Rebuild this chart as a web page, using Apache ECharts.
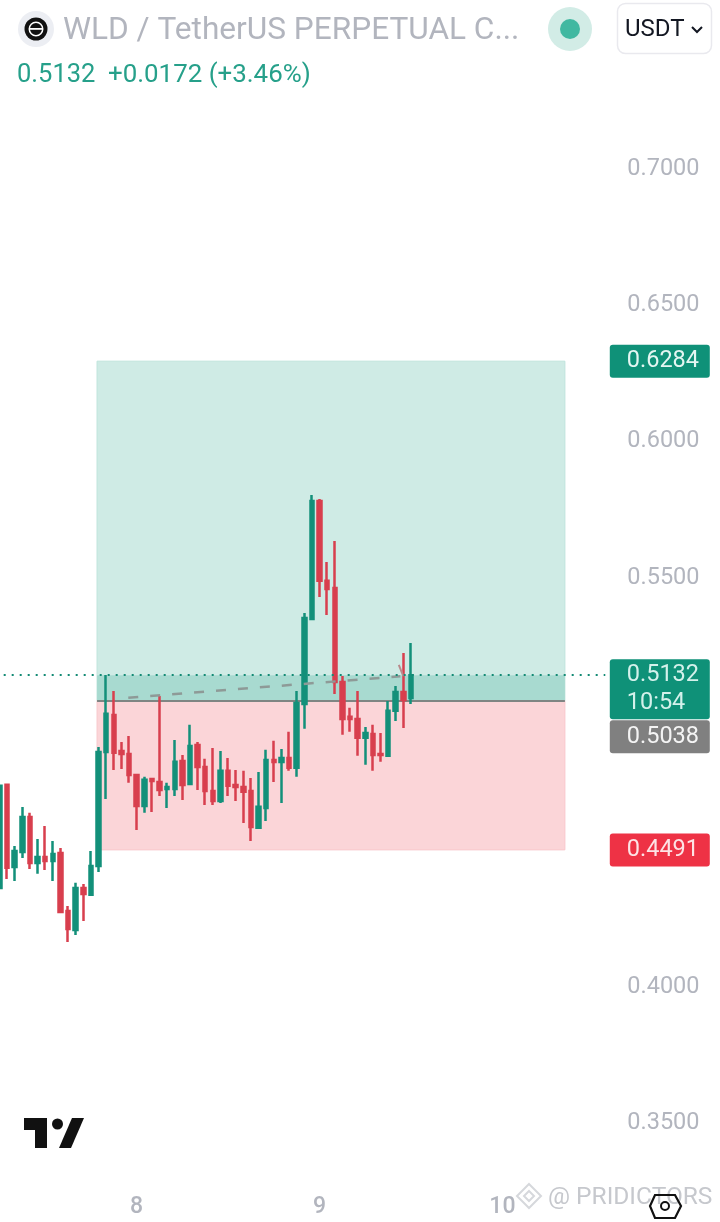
<!DOCTYPE html>
<html><head><meta charset="utf-8">
<style>html,body{margin:0;padding:0;background:#fff}#c{width:720px;height:1222px}</style>
<script src="https://cdn.jsdelivr.net/npm/echarts@6/dist/echarts.min.js"></script></head>
<body><div id="c"></div>
<script>
const opens =[.4351,.4730,.4428,.4483,.4612,.4443,.4465,.4450,.4480,.4267,.4197,.4351,.4326,.4432,.4850,.4986,.4854,.4843,.4766,.4652,.4751,.4740,.4714,.4714,.4817,.4733,.4876,.4795,.4707,.4670,.4781,.4729,.4722,.4707,.4572,.4645,.4821,.4813,.4828,.4792,.5026,.5338,.5771,.5478,.5452,.5107,.4979,.4971,.4902,.4916,.4843,.4836,.5001,.5070,.5048];
const closes=[.4726,.4425,.4487,.4612,.4443,.4465,.4450,.4476,.4263,.4201,.4351,.4329,.4432,.4850,.4990,.4847,.4843,.4766,.4652,.4748,.4744,.4711,.4722,.4814,.4729,.4872,.4795,.4707,.4670,.4781,.4726,.4722,.4704,.4575,.4649,.4821,.4813,.4828,.4792,.5030,.5342,.5771,.5478,.5448,.5107,.4971,.4971,.4902,.4920,.4839,.4839,.5001,.5070,.5041,.5132];
const lows  =[.4347,.4384,.4377,.4461,.4421,.4403,.4417,.4377,.4260,.4153,.4179,.4230,.4326,.4410,.4678,.4784,.4788,.4737,.4564,.4627,.4630,.4689,.4645,.4689,.4674,.4733,.4711,.4656,.4656,.4663,.4689,.4670,.4590,.4524,.4572,.4597,.4740,.4663,.4781,.4759,.4935,.5338,.5419,.5353,.5063,.4913,.4924,.4836,.4803,.4781,.4814,.4836,.4964,.4938,.5026];
const highs =[.4730,.4730,.4505,.4648,.4627,.4531,.4579,.4524,.4498,.4285,.4370,.4366,.4487,.4868,.5133,.5074,.4887,.4909,.4766,.4759,.4755,.5056,.4737,.4894,.4839,.4950,.4887,.4825,.4865,.4854,.4828,.4784,.4781,.4755,.4777,.4858,.4891,.4861,.4924,.5074,.5360,.5793,.5778,.5547,.5624,.5129,.5012,.5074,.4942,.4950,.4920,.5037,.5092,.5213,.5250];
const bandCount = 80;
const dayLabels = {18:'8',42:'9',66:'10'};
const categories = Array.from({length:bandCount},(_,i)=>dayLabels[i]||'');
const priceTicks = {min:0.35,max:0.70,step:0.05};
const hiddenTicks = ['0.5000','0.4500'];
const boxSpan = [12.8,74.2];
const targetPrice=0.6284, entryPrice=0.5038, stopPrice=0.4491, lastPrice=0.5132, countdown='10:54';
const lineStart=[16.9,0.5049], lineEnd=[52.6,0.5128];
const arrowTop=[52.4,0.5170], arrowTip=[53.0,0.5128];
const UP='#13907a', DOWN='#d83f4e', GREY='#b2b5be';
const badge=(v,text,bg,fg,dy,h)=>({yAxis:v,lineStyle:{width:0,color:'rgba(0,0,0,0)'},
  label:{show:true,position:'end',distance:4.5,offset:[0,dy],formatter:text,backgroundColor:bg,color:fg,padding:[6,0,0,17],
    fontFamily:'Roboto',fontSize:23.5,lineHeight:28,width:83,height:h-6,align:'left',verticalAlign:'middle',borderRadius:3}});
const txt=(text,x,y,size,fill,extra)=>({type:'text',z:50,style:Object.assign({text,x,y,font:size+'px Roboto',fill,verticalAlign:'middle',textVerticalAlign:'middle'},extra||{})});
const chart=echarts.init(document.getElementById('c'),null,{renderer:'canvas'});
chart.setOption({
 animation:false,backgroundColor:'#fff',
 grid:{left:-4.31,top:166,width:609.6,height:954,containLabel:false,outerBoundsMode:'none'},
 xAxis:[{type:'category',data:categories,boundaryGap:true,axisLine:{show:false},axisTick:{show:false},splitLine:{show:false},
   axisLabel:{interval:0,margin:76,color:GREY,fontFamily:'Roboto',fontSize:23,fontWeight:500}},
  {type:'value',min:-0.5,max:bandCount-0.5,show:false}],
 yAxis:{type:'value',position:'right',min:priceTicks.min,max:priceTicks.max,interval:priceTicks.step,scale:true,
   axisLine:{show:false},axisTick:{show:false},splitLine:{show:false},
   axisLabel:{margin:22,color:GREY,fontFamily:'Roboto',fontSize:23.5,verticalAlign:'top',lineHeight:6,formatter:v=>hiddenTicks.includes(v.toFixed(4))?'':v.toFixed(4)}},
 series:[
  {type:'line',xAxisIndex:1,data:[],silent:true,z:1,
   markArea:{silent:true,z:1,data:[
     [{xAxis:boxSpan[0],yAxis:targetPrice,itemStyle:{color:'#cfebe5',borderColor:'#bfe4dc',borderWidth:1}},{xAxis:boxSpan[1],yAxis:entryPrice}],
     [{xAxis:boxSpan[0],yAxis:entryPrice,itemStyle:{color:'#fbd5d8',borderColor:'#f8c8cc',borderWidth:1}},{xAxis:boxSpan[1],yAxis:stopPrice}],
     [{xAxis:boxSpan[0],yAxis:lastPrice,itemStyle:{color:'#a8dad0',borderWidth:0}},{xAxis:boxSpan[1],yAxis:entryPrice}]
   ]},
   markLine:{silent:true,symbol:'none',z:2,precision:4,animation:false,data:[
     [{coord:[boxSpan[0],entryPrice],lineStyle:{color:'#7f8583',width:2,type:'solid'},label:{show:false}},{coord:[boxSpan[1],entryPrice]}]
   ]}},
  {type:'candlestick',xAxisIndex:0,z:3,barWidth:4,
   data:opens.map((o,i)=>[o,closes[i],lows[i],highs[i]]),
   itemStyle:{color:UP,color0:DOWN,borderColor:UP,borderColor0:DOWN,borderWidth:2.5,borderColorDoji:UP}},
  {type:'line',xAxisIndex:1,z:4,silent:true,symbol:'none',data:[lineStart,lineEnd],
   lineStyle:{color:'#8e9a97',width:2.5,type:[10,12]}},
  {type:'line',xAxisIndex:1,z:4,silent:true,symbol:'none',data:[arrowTop,arrowTip],
   lineStyle:{color:'#b98a8c',width:2}},
  {type:'line',xAxisIndex:0,z:5,data:[],silent:true,
   markLine:{silent:true,symbol:'none',z:7,precision:4,animation:false,data:[
     {yAxis:lastPrice,lineStyle:{color:'#138a74',width:2,type:[2,6]},label:{show:false}},
     badge(targetPrice,String(targetPrice),'#0f9178','#e4f6f2',0,33),
     badge(lastPrice,lastPrice+'\n'+countdown,'#0f9178','#d4f1eb',14,60),
     badge(entryPrice,entryPrice.toFixed(4),'#808080','#f4f4f4',36,33),
     badge(stopPrice,String(stopPrice),'#ee3245','#fde3e5',0,33)
   ]}}
 ],
 graphic:[
  {type:'circle',z:50,shape:{cx:36,cy:29,r:18},style:{fill:'#eceef3'}},
  {type:'circle',z:51,shape:{cx:36,cy:29,r:11.5},style:{fill:'#111'}},
  {type:'ring',z:52,shape:{cx:36,cy:29,r:7.5,r0:6},style:{fill:'#fff'}},
  {type:'rect',z:52,shape:{x:30,y:28,width:12,height:1.8},style:{fill:'#fff'}},
  txt('WLD / TetherUS PERPETUAL C...',63,31,31.6,'#b2b5be'),
  {type:'circle',z:50,shape:{cx:570,cy:29,r:22},style:{fill:'#d2ece6'}},
  {type:'circle',z:51,shape:{cx:570,cy:29,r:10},style:{fill:'#41b8a1'}},
  {type:'rect',z:50,shape:{x:617.5,y:3.5,width:94,height:50,r:8},style:{fill:'#fff',stroke:'#e9e9ee',lineWidth:1.5}},
  txt('USDT',625,30,24,'#131722'),
  {type:'polyline',z:51,shape:{points:[[692,27],[697,32],[702,27]]},style:{fill:'none',stroke:'#131722',lineWidth:2}},
  txt('0.5132',17,76,25.5,'#26a08a'),
  txt('+0.0172 (+3.46%)',108,76,25.9,'#26a08a'),
  {type:'polygon',z:50,shape:{points:[[24,1118],[47,1118],[47,1148],[35,1148],[35,1130],[24,1130]]},style:{fill:'#111'}},
  {type:'circle',z:50,shape:{cx:57.5,cy:1124,r:5.5},style:{fill:'#111'}},
  {type:'polygon',z:50,shape:{points:[[72,1118],[84,1118],[71,1148],[59,1148]]},style:{fill:'#111'}},
  {type:'polygon',z:49,shape:{points:[[529,1184],[541,1196],[529,1208],[517,1196]]},style:{fill:'none',stroke:'#d6d8dc',lineWidth:2}},
  {type:'polygon',z:49,shape:{points:[[529,1191],[534,1196],[529,1201],[524,1196]]},style:{fill:'none',stroke:'#d6d8dc',lineWidth:2}},
  txt('@ PRIDICTORS',548,1198,24.5,'#c6c8cd'),
  {type:'polygon',z:51,shape:{points:[[655,1195],[675,1195],[681,1206],[675,1218],[655,1218],[650,1206]]},style:{fill:'none',stroke:'#111',lineWidth:2.2}},
  {type:'ring',z:51,shape:{cx:665,cy:1206,r:5,r0:3},style:{fill:'#111'}}
 ]
});
</script></body></html>
